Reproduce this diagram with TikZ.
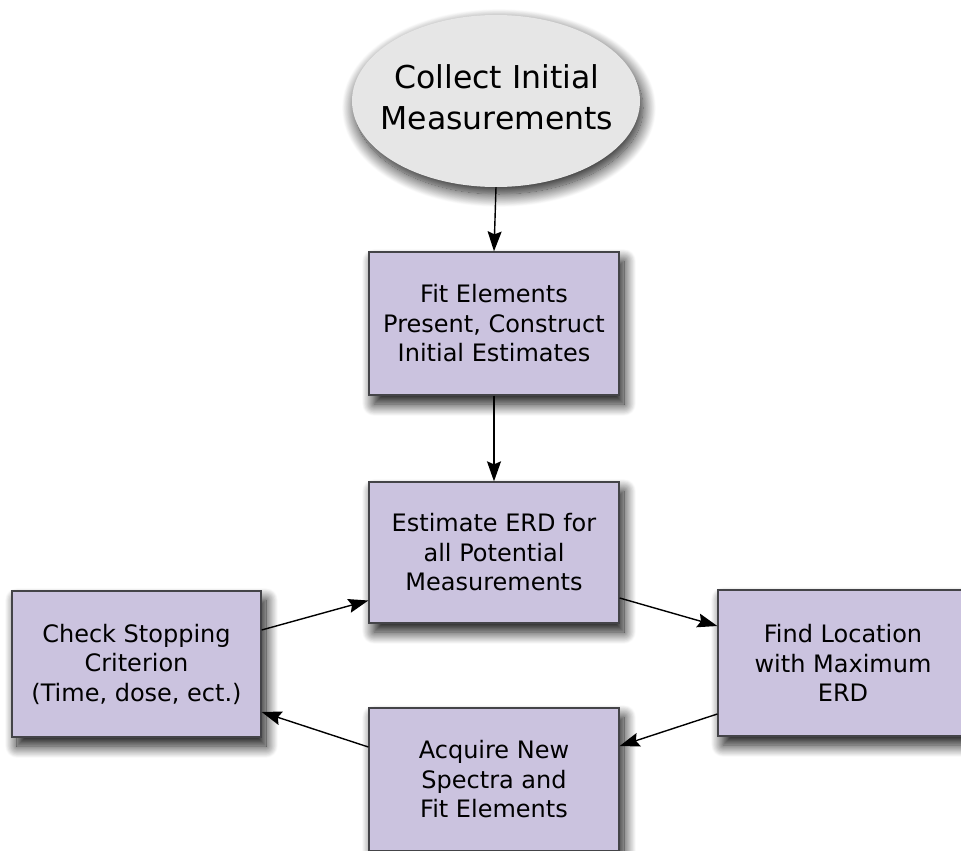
\documentclass[tikz,border=0pt]{standalone}
\usepackage{fontspec}
\setmainfont{DejaVu Sans}
\usetikzlibrary{shadows.blur,arrows.meta,shapes.geometric}
\definecolor{boxfill}{RGB}{203,195,223}
\definecolor{ellfill}{RGB}{230,230,230}
\definecolor{boxline}{RGB}{68,68,72}
\begin{document}
\begin{tikzpicture}[x=1pt,y=-1pt,
  procbox/.style={draw=boxline, line width=1.3pt, fill=boxfill, rectangle,
    inner sep=0pt, align=center, font=\fontsize{24}{29.5}\selectfont,
    blur shadow={shadow xshift=5pt, shadow yshift=-9pt, shadow blur radius=12pt,
      shadow opacity=95, shadow blur steps=20}},
  startell/.style={ellipse, fill=ellfill, inner sep=0pt,
    minimum width=288pt, minimum height=172pt,
    blur shadow={shadow xshift=3pt, shadow yshift=-7pt, shadow blur radius=13pt,
      shadow opacity=90, shadow blur steps=20}},
  elltext/.style={align=center, inner sep=0pt, font=\fontsize{31.5}{41}\selectfont},
  conn/.style={-{Stealth[length=20pt,width=14pt,inset=3pt]}, line width=1.4pt, black}]
\useasboundingbox (0,0) rectangle (961,851);
\node[startell] (collect) at (496,101) {};
\node[elltext] (collecttext) at (497,97) {Collect Initial\\Measurements};
\node[procbox, minimum width=250pt, minimum height=143pt] (fit) at (494,323.5)
  {Fit Elements\\Present, Construct\\Initial Estimates};
\node[procbox, minimum width=250pt, minimum height=141pt] (est) at (494,552.5)
  {Estimate ERD for\\all Potential\\Measurements};
\node[procbox, minimum width=249pt, minimum height=146pt] (chk) at (136.5,664)
  {Check Stopping\\Criterion\\(Time, dose, ect.)};
\node[procbox, minimum width=250pt, minimum height=146pt] (find) at (843,663)
  {Find Location\\with Maximum\\ERD};
\node[procbox, minimum width=250pt, minimum height=143pt] (acq) at (494,779.5)
  {Acquire New\\Spectra and\\Fit Elements};
\draw[conn] (collect.south) -- (fit.north);
\draw[conn] (fit.south) -- (est.north);
\draw[conn] ([yshift=34pt]chk.east) -- ([yshift=-48pt]est.west);
\draw[conn] ([yshift=-45.5pt]est.east) -- ([yshift=37pt]find.west);
\draw[conn] ([yshift=-51pt]find.west) -- ([yshift=33.5pt]acq.east);
\draw[conn] ([yshift=32.5pt]acq.west) -- ([yshift=-48pt]chk.east);
\end{tikzpicture}
\end{document}
